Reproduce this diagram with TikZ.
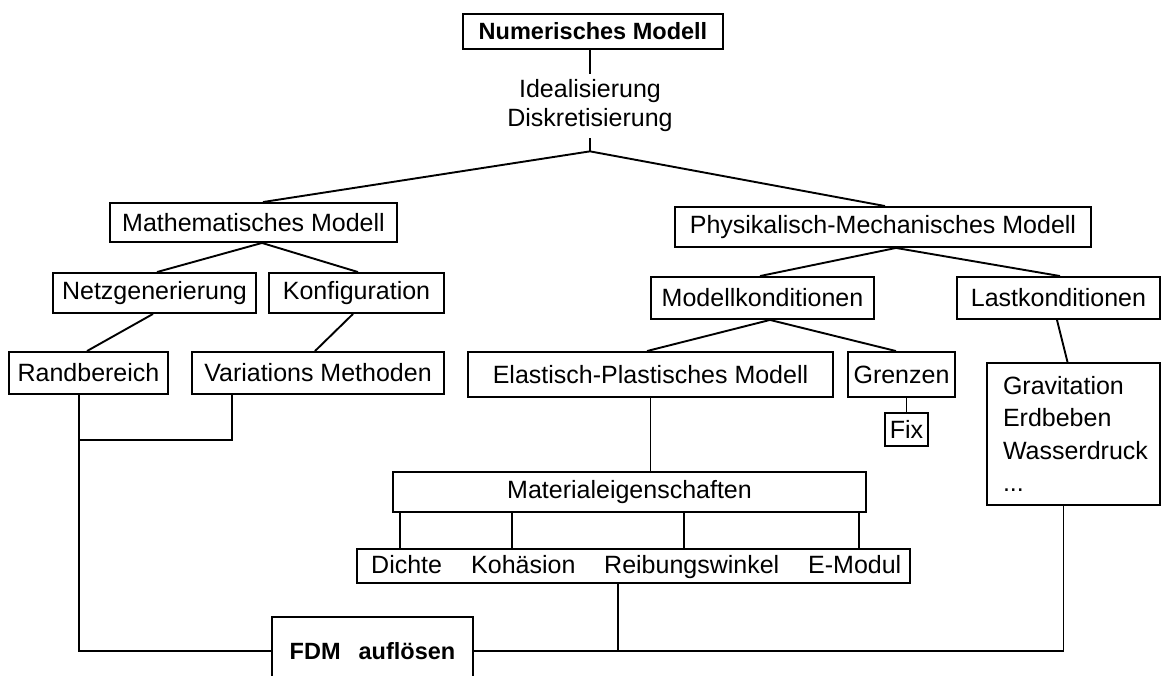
\documentclass[tikz,border=0pt]{standalone}
\usepackage{fontspec}
\setmainfont{Liberation Sans}
\begin{document}
\begin{tikzpicture}[x=1pt,y=-1pt,
  every node/.style={font=\fontsize{25}{32}\selectfont},
  box/.style={draw, line width=1.9pt, inner sep=0pt},
  boldtxt/.style={font=\bfseries\fontsize{23.5}{28}\selectfont},
  ln/.style={line width=1.9pt}]
\useasboundingbox (0,0) rectangle (1163,676);
\clip (0,0) rectangle (1163,676);
\fill[white] (0,0) rectangle (1163,676);

% nodes
\node[box, boldtxt, minimum width=260pt, minimum height=35pt] (nm) at (593,31.5) {Numerisches Modell};
\node[align=center, inner sep=6pt, font=\fontsize{25}{29}\selectfont] (ideal) at (590,106) {Idealisierung\\Diskretisierung};
\coordinate (br) at ([yshift=-13pt]ideal.south);

\node[box, minimum width=287pt, minimum height=39pt] (mm) at (253.5,222.5) {Mathematisches Modell};
\node[box, minimum width=416pt, minimum height=40pt] (pm) at (883,227) {Physikalisch-Mechanisches Modell};

\node[box, minimum width=203pt, minimum height=40pt] (netz) at (154.5,293) {Netzgenerierung};
\node[box, minimum width=175pt, minimum height=40pt] (konf) at (356.5,293) {Konfiguration};
\node[box, minimum width=159pt, minimum height=42pt] (rand) at (88.5,373) {Randbereich};
\node[box, minimum width=252pt, minimum height=42pt] (var) at (318,373) {Variations Methoden};

\node[box, minimum width=223pt, minimum height=42pt] (modk) at (762.5,298) {Modellkonditionen};
\node[box, minimum width=203pt, minimum height=42pt] (lastk) at (1058.5,298) {Lastkonditionen};
\node[box, minimum width=365pt, minimum height=45pt] (elast) at (650.5,374.5) {Elastisch-Plastisches Modell};
\node[box, minimum width=107pt, minimum height=45pt] (grenz) at (901.5,374.5) {Grenzen};
\node[box, minimum width=43pt, minimum height=33pt] (fix) at (906.5,429.5) {Fix};
\node[box, minimum width=173pt, minimum height=142pt, text width=141pt, align=left, inner xsep=16pt, font=\fontsize{25}{32.5}\selectfont] (li) at (1073.5,434) {Gravitation\\Erdbeben\\Wasserdruck\\...};

\node[box, minimum width=473pt, minimum height=40pt] (mat) at (629.5,492) {Materialeigenschaften};
\node[box, minimum width=553pt, minimum height=34pt] (items) at (633.5,566) {};
\node[anchor=base west, inner sep=0pt] (dichte) at (371,573) {Dichte};
\node[anchor=base west, inner sep=0pt] (koh) at (471,573) {Kohäsion};
\node[anchor=base west, inner sep=0pt] (reib) at (604,573) {Reibungswinkel};
\node[anchor=base west, inner sep=0pt] (emod) at (808,573) {E-Modul};

\node[box, boldtxt, minimum width=201pt, minimum height=68pt] (fdm) at (372.5,651) {FDM\hspace{18pt}auflösen};

\coordinate (j1) at (79,440);

% connectors
\draw[ln] (nm.south -| ideal.north) -- (ideal.north);
\draw[ln] (ideal.south) -- (br);
\draw[ln] (br) -- ([xshift=9.5pt]mm.north);
\draw[ln] (br) -- ([xshift=2pt]pm.north);
\draw[ln] ([xshift=8.5pt]mm.south) -- ([xshift=2.5pt]netz.north);
\draw[ln] ([xshift=8.5pt]mm.south) -- ([xshift=1.5pt]konf.north);
\draw[ln] ([xshift=-1.5pt]netz.south) -- ([xshift=-1.5pt]rand.north);
\draw[ln] ([xshift=-3.5pt]konf.south) -- ([xshift=-3pt]var.north);
\draw[ln] ([xshift=-9.5pt]rand.south) |- (fdm.west);
\draw[ln] ([xshift=-86pt]var.south) |- (j1);
\draw[ln] ([xshift=13pt]pm.south) -- ([xshift=-2.5pt]modk.north);
\draw[ln] ([xshift=13pt]pm.south) -- ([xshift=1.5pt]lastk.north);
\draw[ln] ([xshift=7.5pt]modk.south) -- ([xshift=-3.5pt]elast.north);
\draw[ln] ([xshift=7.5pt]modk.south) -- ([xshift=-5.5pt]grenz.north);
\draw[ln] (fix.north |- grenz.south) -- (fix.north);
\draw[ln] ([xshift=-1.5pt]lastk.south) -- ([xshift=-6pt]li.north);
\draw[ln] (elast.south) -- (elast.south |- mat.north);
\foreach \dx in {44,156,328,503}
  \draw[ln] ([xshift=\dx pt]items.north west) -- ([xshift=\dx pt]items.north west |- mat.south);
\draw[ln] ([xshift=-15.5pt]items.south) -- ([xshift=-15.5pt]items.south |- fdm.east);
\draw[ln] (fdm.east) -| ([xshift=-10pt]li.south);
\end{tikzpicture}
\end{document}
